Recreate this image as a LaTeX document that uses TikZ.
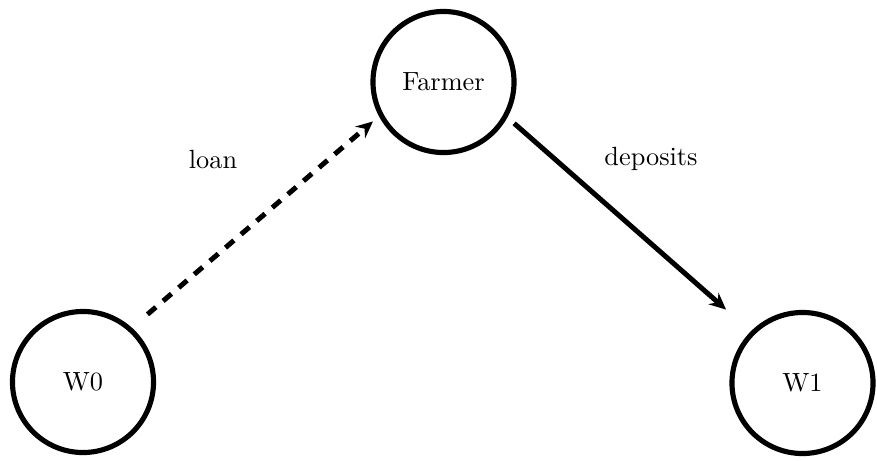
\documentclass[tikz,border=0pt]{standalone}
\usetikzlibrary{arrows.meta}
\begin{document}
\begin{tikzpicture}[x=0.38pt,y=-0.38pt,
  state/.style={circle,draw,line width=1.95pt,minimum size=53.6pt,inner sep=0pt,font=\normalsize},
  flow/.style={line width=1.9pt,-{Stealth[length=6.4pt,width=5.8pt,inset=2.2pt]}},
  loanline/.style={flow,dash pattern=on 4.2pt off 3.6pt},
  lbl/.style={inner sep=0pt}]
\useasboundingbox (0,0) rectangle (877,460);
\node[state] (W0) at (83,382) {W0};
\node[state] (Farmer) at (443.5,82) {Farmer};
\node[state] (W1) at (802.5,383) {W1};
\draw[loanline,shorten <=7.8pt,shorten >=3pt] (W0.48.5) -- (Farmer.208);
\draw[flow,shorten <=3.4pt,shorten >=12.5pt] (Farmer.-29.2) -- (W1.135);
\node[lbl] (loan) at (213,160) {loan};
\node[lbl] (dep) at (651,159) {deposits};
\end{tikzpicture}
\end{document}
